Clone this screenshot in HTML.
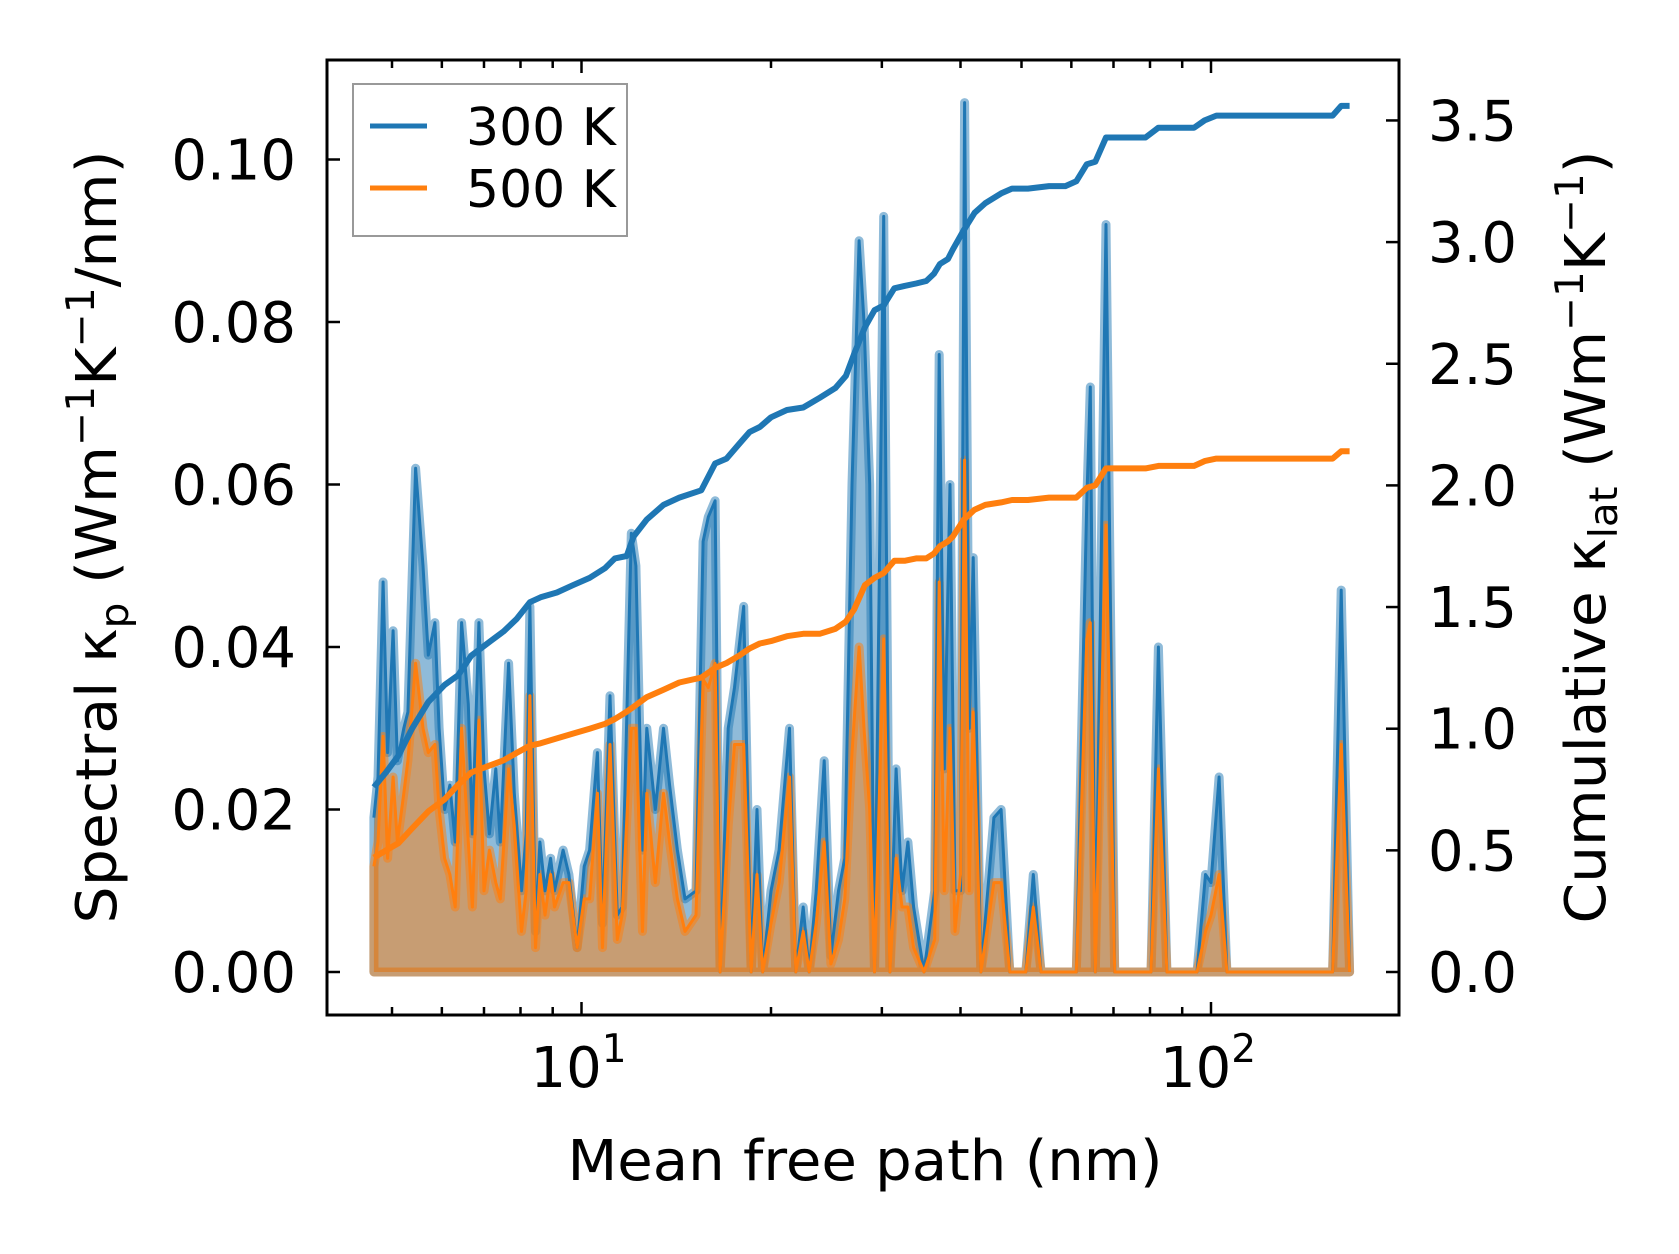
<!DOCTYPE html>
<html><head><meta charset="utf-8"><style>
html,body{margin:0;padding:0;background:#fff;}
svg{display:block;font-family:"DejaVu Sans","Liberation Sans",sans-serif;}
</style></head><body>
<svg id="chart" width="1679" height="1254" viewBox="0 0 1679 1254" xmlns="http://www.w3.org/2000/svg">
<rect width="1679" height="1254" fill="#fff"/>
<g id="marks"></g>
<g id="axes"></g>
</svg>
<script>
const mfp = [4.68,4.75,4.84,4.92,5.02,5.10,5.22,5.30,5.45,5.60,5.71,5.85,5.94,6.06,6.18,6.30,6.45,6.61,6.71,6.87,7.00,7.14,7.31,7.43,7.66,7.82,8.03,8.17,8.28,8.45,8.59,8.75,8.93,9.06,9.35,9.55,9.84,10.1,10.3,10.6,10.8,11.1,11.4,11.6,12.0,12.2,12.5,12.7,13.1,13.5,13.8,14.2,14.6,15.2,15.6,15.9,16.3,16.6,17.1,17.5,18.1,18.6,19.0,19.4,20.0,20.6,21.4,21.9,22.5,23.0,23.6,24.3,24.9,25.6,26.2,26.9,27.6,28.1,28.7,29.2,30.2,30.9,31.6,32.3,33.0,33.7,35.0,36.4,37.0,37.7,38.5,39.2,40.0,40.6,41.3,41.9,43.1,45.2,46.4,47.9,50.8,52.2,53.7,61.1,63.5,64.3,65.5,68.1,70.3,80.3,82.5,85.1,95.0,98.0,100,103,106,156,161,166];
const spec300 = [0.019,0.024,0.048,0.027,0.042,0.026,0.030,0.032,0.062,0.050,0.039,0.043,0.030,0.020,0.023,0.016,0.043,0.033,0.017,0.043,0.025,0.017,0.025,0.016,0.038,0.022,0.010,0.017,0.045,0.005,0.016,0.010,0.014,0.010,0.015,0.012,0.003,0.013,0.015,0.027,0.006,0.034,0.007,0.008,0.054,0.050,0.015,0.030,0.020,0.030,0.023,0.015,0.009,0.010,0.053,0.056,0.058,0.000,0.030,0.035,0.045,0.000,0.020,0.000,0.010,0.015,0.030,0.000,0.008,0.000,0.010,0.026,0.002,0.010,0.014,0.060,0.090,0.080,0.060,0.000,0.093,0.000,0.025,0.010,0.016,0.008,0.000,0.010,0.076,0.025,0.060,0.010,0.010,0.107,0.030,0.051,0.000,0.019,0.020,0.000,0.000,0.012,0.000,0.000,0.058,0.072,0.000,0.092,0.000,0.000,0.040,0.000,0.000,0.012,0.011,0.024,0.000,0.000,0.047,0.000];
const spec500 = [0.013,0.016,0.029,0.014,0.024,0.016,0.022,0.026,0.038,0.030,0.027,0.028,0.020,0.014,0.012,0.008,0.030,0.016,0.008,0.031,0.010,0.015,0.011,0.009,0.025,0.018,0.005,0.010,0.034,0.003,0.012,0.007,0.012,0.008,0.011,0.011,0.003,0.009,0.009,0.022,0.003,0.028,0.004,0.007,0.030,0.030,0.005,0.022,0.011,0.022,0.016,0.009,0.005,0.007,0.036,0.035,0.038,0.000,0.018,0.028,0.028,0.000,0.012,0.000,0.006,0.011,0.024,0.000,0.005,0.000,0.006,0.016,0.001,0.004,0.009,0.027,0.040,0.030,0.020,0.000,0.041,0.000,0.014,0.008,0.008,0.003,0.000,0.004,0.048,0.010,0.030,0.005,0.012,0.063,0.010,0.032,0.000,0.011,0.011,0.000,0.000,0.008,0.000,0.000,0.041,0.043,0.000,0.055,0.000,0.000,0.025,0.000,0.000,0.005,0.007,0.012,0.000,0.000,0.028,0.000];
const cumMfp = [4.68,4.89,5.12,5.38,5.71,6.06,6.37,6.68,7.17,7.52,7.88,8.28,8.61,9.14,9.69,10.3,10.9,11.3,11.8,12.1,12.7,13.5,14.3,15.5,16.3,17.0,17.8,18.5,19.2,20.0,21.2,22.5,23.9,25.3,26.3,27.1,28.2,29.2,30.2,31.4,32.6,34.0,35.3,36.3,37.1,38.2,38.9,40.5,42.1,43.8,46.4,48.3,51.2,55.3,58.7,61.1,63.5,65.5,68.1,72.8,78.7,82.5,94.0,97.7,102,119,156,161,166];
const cum300 = [0.76,0.82,0.89,1.00,1.11,1.18,1.22,1.30,1.36,1.40,1.45,1.52,1.54,1.56,1.59,1.62,1.66,1.70,1.71,1.79,1.86,1.92,1.95,1.98,2.09,2.11,2.17,2.22,2.24,2.28,2.31,2.32,2.36,2.40,2.45,2.54,2.65,2.72,2.74,2.81,2.82,2.83,2.84,2.87,2.91,2.93,2.97,3.05,3.12,3.16,3.20,3.22,3.22,3.23,3.23,3.25,3.32,3.33,3.43,3.43,3.43,3.47,3.47,3.50,3.52,3.52,3.52,3.56,3.56];
const cum500 = [0.47,0.50,0.53,0.59,0.66,0.71,0.77,0.82,0.85,0.87,0.90,0.93,0.94,0.96,0.98,1.00,1.02,1.04,1.07,1.09,1.13,1.16,1.19,1.21,1.25,1.27,1.30,1.33,1.35,1.36,1.38,1.39,1.39,1.41,1.44,1.49,1.59,1.62,1.64,1.69,1.69,1.70,1.70,1.72,1.75,1.77,1.79,1.86,1.90,1.92,1.93,1.94,1.94,1.95,1.95,1.95,1.99,2.00,2.07,2.07,2.07,2.08,2.08,2.10,2.11,2.11,2.11,2.14,2.14];
const leftTicks = [0,0.02,0.04,0.06,0.08,0.10];
const leftTickLabels = ["0.00","0.02","0.04","0.06","0.08","0.10"];
const rightTicks = [0,0.5,1,1.5,2,2.5,3,3.5];
const rightTickLabels = ["0.0","0.5","1.0","1.5","2.0","2.5","3.0","3.5"];
const xMajor = [10,100];
const xMajorExp = ["1","2"];
const xMinor = [5,6,7,8,9,20,30,40,50,60,70,80,90];

const NS="http://www.w3.org/2000/svg";
const L=327,R=1399,T=60,B=1015;
const xs = m => 581.5 + (Math.log10(m)-1)*629.5;
const yl = v => 972 - v*8125;
const yr = c => 972 - c*243.3;
function mk(tag, attrs, parent){const e=document.createElementNS(NS,tag);for(const k in attrs)e.setAttribute(k,attrs[k]);parent.appendChild(e);return e;}
const marks=document.getElementById('marks'), axes=document.getElementById('axes');
const BLUE="#1f77b4", ORANGE="#ff7f0e";

function area(vals,color,name){
  let d="M"+xs(mfp[0])+","+yl(0);
  vals.forEach((v,i)=>{d+=" L"+xs(mfp[i]).toFixed(1)+","+yl(v).toFixed(1);});
  d+=" L"+xs(mfp[mfp.length-1])+","+yl(0)+" Z";
  const p=mk('path',{d:d,fill:color,'fill-opacity':0.5,stroke:color,'stroke-opacity':0.5,'stroke-width':9,'stroke-linejoin':'round'},marks);
  
  
}
function line(xv,vals,fy,color,w,name){
  const d=vals.map((v,i)=>(i?"L":"M")+xs(xv[i]).toFixed(1)+","+fy(v).toFixed(1)).join(" ");
  const p=mk('path',{d:d,fill:'none',stroke:color,'stroke-width':w,'stroke-linejoin':'round'},marks);
  
  
}
area(spec300,BLUE,'spectral-300k');
area(spec500,ORANGE,'spectral-500k');
line(mfp,spec300,yl,BLUE,3,'spectral-300k-line');
line(mfp,spec500,yl,ORANGE,3,'spectral-500k-line');
line(cumMfp,cum300,yr,BLUE,6,'cumulative-300k-line');
line(cumMfp,cum500,yr,ORANGE,6,'cumulative-500k-line');

const fr=mk('rect',{x:L,y:T,width:R-L,height:B-T,fill:'none',stroke:'#000','stroke-width':3},axes);


const tk={stroke:'#000','stroke-width':2.5};
leftTicks.forEach((v,i)=>{
  const y=yl(v);
  mk('line',Object.assign({x1:L,x2:L+13,y1:y,y2:y},tk),axes);
  const t=mk('text',{x:L-31,y:y+20,'font-size':56,'text-anchor':'end',fill:'#000'},axes);
  t.textContent=leftTickLabels[i];
  
  
});
rightTicks.forEach((v,i)=>{
  const y=yr(v);
  mk('line',Object.assign({x1:R,x2:R-13,y1:y,y2:y},tk),axes);
  const t=mk('text',{x:R+29,y:y+20,'font-size':56,'text-anchor':'start',fill:'#000'},axes);
  t.textContent=rightTickLabels[i];
  
  
});
xMajor.forEach((m,i)=>{
  const x=xs(m);
  mk('line',Object.assign({x1:x,x2:x,y1:B,y2:B-13},tk),axes);
  mk('line',Object.assign({x1:x,x2:x,y1:T,y2:T+13},tk),axes);
  const t=mk('text',{x:x-3,y:1087,'font-size':56,'text-anchor':'middle',fill:'#000'},axes);
  
  
  const a=mk('tspan',{},t);a.textContent="10";
  const b=mk('tspan',{'font-size':39,dy:-25},t);b.textContent=xMajorExp[i];
});
xMinor.forEach(m=>{
  const x=xs(m); if(x<L||x>R)return;
  mk('line',Object.assign({x1:x,x2:x,y1:B,y2:B-8},tk),axes);
  mk('line',Object.assign({x1:x,x2:x,y1:T,y2:T+8},tk),axes);
});

const xl=mk('text',{x:865,y:1180,'font-size':56,'text-anchor':'middle',fill:'#000',textLength:595,lengthAdjust:'spacingAndGlyphs'},axes);
xl.textContent="Mean free path (nm)";



function ylabel(x,parts,name){
  const t=mk('text',{x:0,y:0,'font-size':56,'text-anchor':'middle',fill:'#000',transform:'translate('+x+',537) rotate(-90)',textLength:773,lengthAdjust:'spacingAndGlyphs'},axes);
  
  
  parts.forEach(p=>{const s=mk('tspan',p[1]==='sup'?{'font-size':39,dy:-22}:p[1]==='sub'?{'font-size':39,dy:12}:p[1]==='back'?{dy:p[2]}:{},t);s.textContent=p[0];});
}
ylabel(116,[["Spectral κ",""],["p","sub"],[" (Wm","back",-12],["−1","sup"],["K","back",22],["−1","sup"],["/nm)","back",22]],'left-y-axis-title');
ylabel(1605,[["Cumulative κ",""],["lat","sub"],[" (Wm","back",-12],["−1","sup"],["K","back",22],["−1","sup"],[")","back",22]],'right-y-axis-title');

const lg=mk('g',{},axes);


mk('rect',{x:353,y:84,width:274,height:152,fill:'#fff',stroke:'#999','stroke-width':2},lg);
[["300 K",BLUE,126],["500 K",ORANGE,188]].forEach(e=>{
  const g=mk('g',{},lg);
  
  
  mk('line',{x1:370,x2:427,y1:e[2],y2:e[2],stroke:e[1],'stroke-width':5},g);
  const t=mk('text',{x:466,y:e[2]+19,'font-size':52,fill:'#000'},g);t.textContent=e[0];
});
</script>
</body></html>
